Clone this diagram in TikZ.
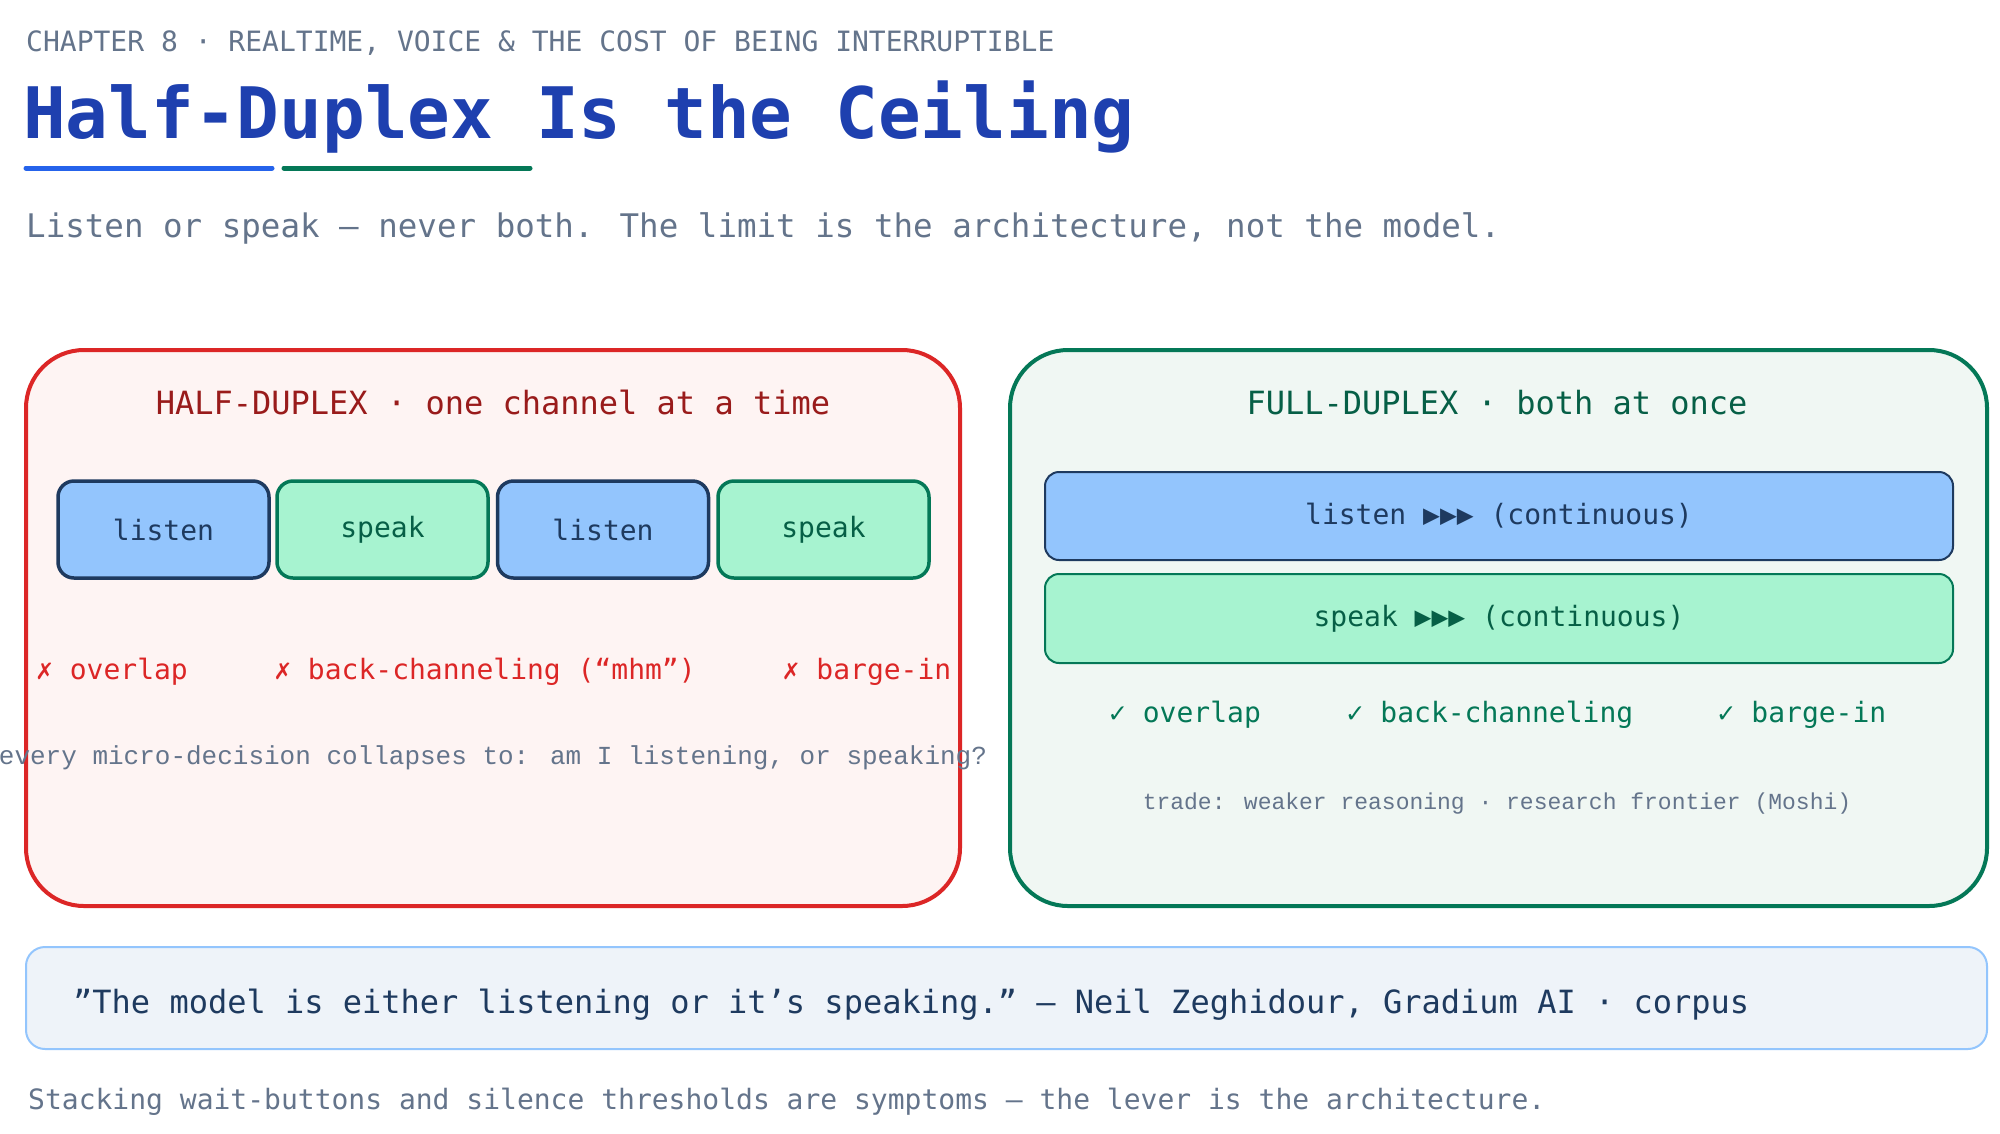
\documentclass[tikz,border=0pt]{standalone}
\usepackage{fontspec}
\setmainfont{DejaVu Sans Mono}
\newfontfamily\alt{Liberation Mono}
\newcommand{\fsz}[1]{\fontsize{#1}{#1}\selectfont}
\definecolor{slate}{HTML}{64748B}
\definecolor{ttl}{HTML}{1E40AF}
\definecolor{red1}{HTML}{DC2626}
\definecolor{red2}{HTML}{991B1B}
\definecolor{grn}{HTML}{047857}
\definecolor{grn2}{HTML}{065F46}
\definecolor{navy}{HTML}{1E3A5F}
\definecolor{blu}{HTML}{93C5FD}
\definecolor{mint}{HTML}{A7F3D0}
\begin{document}
\begin{tikzpicture}[x=1pt,y=-1pt,
  txt/.style={anchor=base,inner sep=0pt},
  panel/.style={rounded corners=58pt,line width=4pt},
  lbox/.style={rounded corners=16pt,line width=3.5pt,draw=navy,fill=blu,text=navy,font=\fsz{28}},
  sbox/.style={rounded corners=16pt,line width=3.5pt,draw=grn,fill=mint,text=grn2,font=\fsz{28}},
  bar/.style={rounded corners=14pt,line width=2pt,font=\fsz{28}}]
\useasboundingbox[fill=white] (0,0) rectangle (2000,1133);
\node[txt,anchor=base west,text=slate,font=\fsz{28}] (chap) at (26,51) {CHAPTER 8  ·  REALTIME, VOICE \& THE COST OF BEING INTERRUPTIBLE};
\node[txt,anchor=base west,text=ttl,font=\bfseries\fsz{71}] (title) at (23,138) {Half-Duplex Is the Ceiling};
\draw[line width=5pt,line cap=round,color={rgb,255:red,37;green,99;blue,235}] (26,168) coordinate (u1) -- (272,168) coordinate (u2);
\draw[line width=5pt,line cap=round,grn] (284,168) coordinate (u3) -- (530,168) coordinate (u4);
\node[txt,anchor=base west,text=slate,font=\fsz{32.5}] (sub) at (26,237) {Listen or speak — never both. The limit is the architecture, not the model.};

\draw[panel,draw=red1,fill={rgb,255:red,254;green,244;blue,243}] (26,350) rectangle (960,906);
\node[txt,text=red2,font=\fsz{32}] (ht) at (493,414) {HALF-DUPLEX  ·  one channel at a time};
\node[lbox,minimum width=211pt,minimum height=97pt] (l1) at (163.5,529.5) {listen};
\node[sbox,minimum width=211pt,minimum height=97pt] (s1) at (382.5,529.5) {speak};
\node[lbox,minimum width=211pt,minimum height=97pt] (l2) at (603,529.5) {listen};
\node[sbox,minimum width=211pt,minimum height=97pt] (s2) at (823.5,529.5) {speak};
\node[txt,text=red1,font=\fsz{28}] (x1) at (112,679) {✗ overlap};
\node[txt,text=red1,font=\fsz{28}] (x2) at (485,679) {✗ back-channeling (“mhm”)};
\node[txt,text=red1,font=\fsz{28}] (x3) at (867,679) {✗ barge-in};
\node[txt,text=slate,font=\alt\fsz{26}] (ev) at (493,764) {every micro-decision collapses to: am I listening, or speaking?};

\draw[panel,draw=grn,fill={rgb,255:red,240;green,247;blue,243}] (1010,350) rectangle (1987,906);
\node[txt,text=grn2,font=\fsz{32}] (ft) at (1497,414) {FULL-DUPLEX  ·  both at once};
\node[bar,draw=navy,fill=blu,text=navy,minimum width=908pt,minimum height=88pt] (lb) at (1499,516) {listen  ▶▶▶  (continuous)};
\node[bar,draw=grn,fill=mint,text=grn2,minimum width=908pt,minimum height=89pt] (sb) at (1499,618.5) {speak  ▶▶▶  (continuous)};
\node[txt,text=grn,font=\fsz{28}] (c1) at (1185,722) {✓ overlap};
\node[txt,text=grn,font=\fsz{28}] (c2) at (1490,722) {✓ back-channeling};
\node[txt,text=grn,font=\fsz{28}] (c3) at (1802,722) {✓ barge-in};
\node[txt,text=slate,font=\alt\fsz{23}] (tr) at (1497,809) {trade: weaker reasoning · research frontier (Moshi)};

\draw[rounded corners=19pt,line width=2pt,draw=blu,fill={rgb,255:red,238;green,243;blue,249}] (26,947) rectangle (1987,1049);
\node[txt,anchor=base west,text=navy,font=\fsz{32}] (q) at (73,1013) {"The model is either listening or it's speaking." — Neil Zeghidour, Gradium AI  ·  corpus};
\node[txt,anchor=base west,text=slate,font=\fsz{28}] (foot) at (28,1109) {Stacking wait-buttons and silence thresholds are symptoms — the lever is the architecture.};
\end{tikzpicture}
\end{document}
